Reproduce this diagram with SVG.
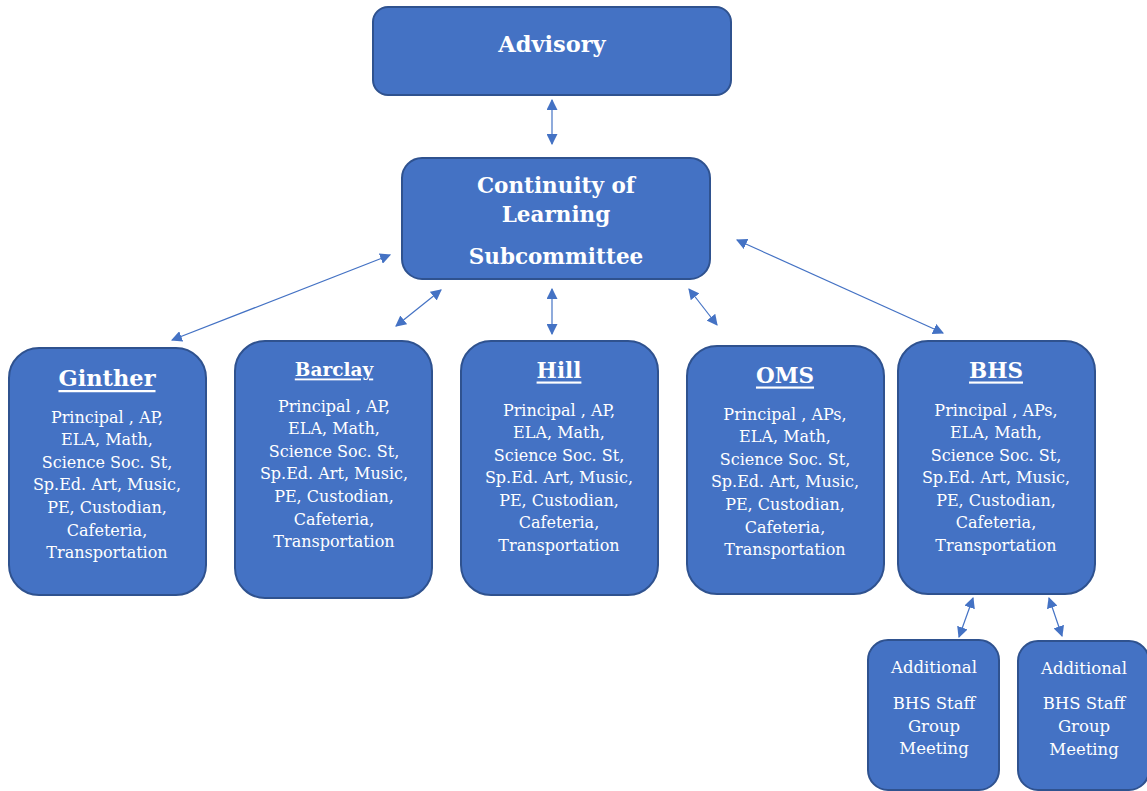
<svg xmlns="http://www.w3.org/2000/svg" width="1147" height="791" viewBox="0 0 1147 791">
<style>
.box{fill:#4472C4;stroke:#2F528F;stroke-width:2}
.t{font-family:"DejaVu Serif","Liberation Serif",serif;fill:#fff;text-anchor:middle;dominant-baseline:central}
.h{font-weight:bold;font-size:21.5px}
.u{text-decoration:underline}
.b{font-size:16px}
.c{stroke:#4472C4;stroke-width:1.2;fill:none;marker-start:url(#a);marker-end:url(#a)}
</style>
<defs>
<marker id="a" viewBox="0 0 10 10" refX="9" refY="5" markerWidth="11" markerHeight="11" markerUnits="userSpaceOnUse" orient="auto-start-reverse">
<path d="M0,0 L10,5 L0,10 z" fill="#4472C4"/>
</marker>
</defs>
<rect width="1147" height="791" fill="#fff"/>
<g id="connectors">
<line class="c" x1="552" y1="100" x2="552" y2="144"/>
<line class="c" x1="390" y1="255" x2="172" y2="340"/>
<line class="c" x1="441" y1="290" x2="396" y2="326"/>
<line class="c" x1="552" y1="289" x2="552" y2="334"/>
<line class="c" x1="689" y1="289" x2="717" y2="325"/>
<line class="c" x1="737" y1="240" x2="943" y2="333"/>
<line class="c" x1="973" y1="598" x2="959" y2="637"/>
<line class="c" x1="1049" y1="598" x2="1062" y2="636"/>
</g>
<g id="advisory">
<rect class="box" x="373" y="7" width="358" height="88" rx="15"/>
<text class="t h" x="552" y="44" style="font-size:22.5px">Advisory</text>
</g>
<g id="continuity">
<rect class="box" x="402" y="158" width="308" height="121" rx="20"/>
<text class="t h" x="556" y="185">Continuity of</text>
<text class="t h" x="556" y="214">Learning</text>
<text class="t h" x="556" y="256">Subcommittee</text>
</g>
<g id="ginther">
<rect class="box" x="9" y="348" width="197" height="247" rx="30"/>
<text class="t h u" x="107" y="378" style="font-size:22.5px">Ginther</text>
<text class="t b" x="107" y="417">Principal , AP,</text>
<text class="t b" x="107" y="439">ELA, Math,</text>
<text class="t b" x="107" y="462">Science Soc. St,</text>
<text class="t b" x="107" y="484">Sp.Ed. Art, Music,</text>
<text class="t b" x="107" y="507">PE, Custodian,</text>
<text class="t b" x="107" y="530">Cafeteria,</text>
<text class="t b" x="107" y="552">Transportation</text>
</g>
<g id="barclay">
<rect class="box" x="235" y="341" width="197" height="257" rx="30"/>
<text class="t h u" x="334" y="369" style="font-size:18.5px">Barclay</text>
<text class="t b" x="334" y="406">Principal , AP,</text>
<text class="t b" x="334" y="428">ELA, Math,</text>
<text class="t b" x="334" y="451">Science Soc. St,</text>
<text class="t b" x="334" y="473">Sp.Ed. Art, Music,</text>
<text class="t b" x="334" y="496">PE, Custodian,</text>
<text class="t b" x="334" y="519">Cafeteria,</text>
<text class="t b" x="334" y="541">Transportation</text>
</g>
<g id="hill">
<rect class="box" x="461" y="341" width="197" height="254" rx="30"/>
<text class="t h u" x="559" y="370">Hill</text>
<text class="t b" x="559" y="410">Principal , AP,</text>
<text class="t b" x="559" y="432">ELA, Math,</text>
<text class="t b" x="559" y="455">Science Soc. St,</text>
<text class="t b" x="559" y="477">Sp.Ed. Art, Music,</text>
<text class="t b" x="559" y="500">PE, Custodian,</text>
<text class="t b" x="559" y="522">Cafeteria,</text>
<text class="t b" x="559" y="545">Transportation</text>
</g>
<g id="oms">
<rect class="box" x="687" y="346" width="197" height="248" rx="30"/>
<text class="t h u" x="785" y="375">OMS</text>
<text class="t b" x="785" y="414">Principal , APs,</text>
<text class="t b" x="785" y="436">ELA, Math,</text>
<text class="t b" x="785" y="459">Science Soc. St,</text>
<text class="t b" x="785" y="481">Sp.Ed. Art, Music,</text>
<text class="t b" x="785" y="504">PE, Custodian,</text>
<text class="t b" x="785" y="527">Cafeteria,</text>
<text class="t b" x="785" y="549">Transportation</text>
</g>
<g id="bhs">
<rect class="box" x="898" y="341" width="197" height="253" rx="30"/>
<text class="t h u" x="996" y="370">BHS</text>
<text class="t b" x="996" y="410">Principal , APs,</text>
<text class="t b" x="996" y="432">ELA, Math,</text>
<text class="t b" x="996" y="455">Science Soc. St,</text>
<text class="t b" x="996" y="477">Sp.Ed. Art, Music,</text>
<text class="t b" x="996" y="500">PE, Custodian,</text>
<text class="t b" x="996" y="522">Cafeteria,</text>
<text class="t b" x="996" y="545">Transportation</text>
</g>
<g id="additional1">
<rect class="box" x="868" y="640" width="131" height="150" rx="20"/>
<text class="t b" x="934" y="667" style="font-size:16.5px">Additional</text>
<text class="t b" x="934" y="703" style="font-size:16.5px">BHS Staff</text>
<text class="t b" x="934" y="726" style="font-size:16.5px">Group</text>
<text class="t b" x="934" y="748" style="font-size:16.5px">Meeting</text>
</g>
<g id="additional2">
<rect class="box" x="1018" y="641" width="131" height="149" rx="20"/>
<text class="t b" x="1084" y="668" style="font-size:16.5px">Additional</text>
<text class="t b" x="1084" y="703" style="font-size:16.5px">BHS Staff</text>
<text class="t b" x="1084" y="726" style="font-size:16.5px">Group</text>
<text class="t b" x="1084" y="749" style="font-size:16.5px">Meeting</text>
</g>
</svg>
